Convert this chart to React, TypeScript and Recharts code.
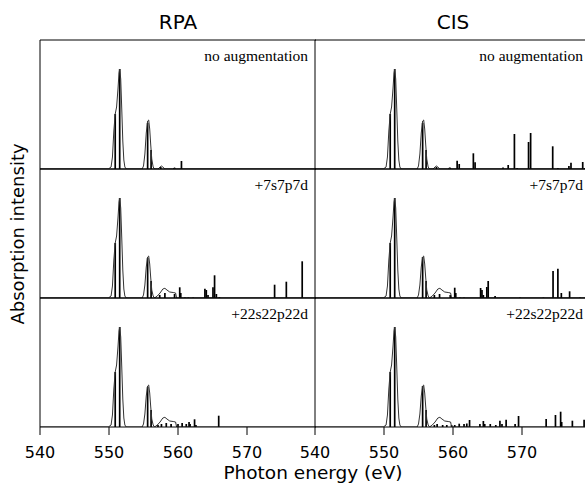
import React from 'react'
import { ComposedChart, Line, XAxis, YAxis, ReferenceLine } from 'recharts'

// stick spectra: [photon energy (eV), relative intensity]
const rpaNoAug = [
  [550.9, 0.55], [551.55, 1.0], [555.6, 0.46], [556.1, 0.19], [557.5, 0.02], [559.4, 0.01], [560.5, 0.08],
]
const cisNoAug = [
  [550.9, 0.55], [551.55, 1.0], [555.6, 0.46], [556.1, 0.19], [557.6, 0.02], [559.6, 0.013],
  [560.6, 0.083], [560.9, 0.05], [562.95, 0.157], [563.2, 0.067], [567.25, 0.015], [568.0, 0.04],
  [568.9, 0.35], [569.3, 0.01], [570.95, 0.27], [571.25, 0.36], [574.45, 0.227], [575.2, 0.01],
  [576.8, 0.03], [577.1, 0.063], [578.8, 0.07], [579.1, 0.01],
]
const rpa7 = [
  [550.9, 0.55], [551.55, 1.0], [555.6, 0.4], [556.1, 0.17], [557.35, 0.03], [558.1, 0.05],
  [559.5, 0.04], [560.25, 0.107], [560.4, 0.05], [561.0, 0.005], [561.5, 0.005], [562.2, 0.005],
  [563.9, 0.093], [564.1, 0.08], [564.35, 0.03], [565.07, 0.107], [565.3, 0.227], [565.56, 0.04],
  [566.0, 0.01], [574.0, 0.133], [575.7, 0.163], [578.0, 0.367],
]
const cis7 = [
  [550.9, 0.55], [551.55, 1.0], [555.6, 0.41], [556.1, 0.17], [557.3, 0.03], [558.05, 0.04],
  [559.6, 0.03], [560.25, 0.103], [560.4, 0.05], [561.0, 0.005], [561.6, 0.005], [564.0, 0.1],
  [564.2, 0.08], [564.4, 0.03], [564.9, 0.11], [565.1, 0.17], [566.1, 0.02], [569.7, 0.005],
  [573.1, 0.005], [574.5, 0.27], [575.2, 0.293], [575.7, 0.05], [576.9, 0.067], [578.4, 0.005],
]
const rpa22 = [
  [550.9, 0.55], [551.55, 1.0], [555.6, 0.4], [556.1, 0.17], [557.1, 0.02], [557.6, 0.03],
  [558.3, 0.04], [559.0, 0.03], [560.0, 0.03], [560.6, 0.04], [561.2, 0.03], [561.6, 0.05],
  [561.75, 0.03], [562.4, 0.077], [562.6, 0.02], [565.9, 0.113],
]
const cis22 = [
  [550.9, 0.55], [551.55, 1.0], [555.6, 0.41], [556.1, 0.17], [557.3, 0.02], [557.7, 0.03],
  [558.5, 0.02], [559.1, 0.02], [559.8, 0.02], [560.25, 0.02], [560.9, 0.033], [561.6, 0.03],
  [562.0, 0.035], [562.4, 0.07], [563.9, 0.03], [564.4, 0.06], [564.6, 0.03], [565.4, 0.03],
  [566.2, 0.02], [566.8, 0.063], [567.1, 0.03], [567.7, 0.073], [569.0, 0.03], [569.5, 0.11],
  [573.5, 0.08], [574.85, 0.12], [575.6, 0.153], [575.75, 0.05], [577.3, 0.063], [579.0, 0.073],
]

// broadened envelope
const mainPeak = [
  [540, 0], [549.9, 0], [550.3, 0.02], [550.5, 0.12], [550.7, 0.38], [550.9, 0.55], [551.1, 0.62],
  [551.3, 0.8], [551.45, 0.96], [551.55, 1.0], [551.7, 0.9], [551.85, 0.6], [552.0, 0.28],
  [552.15, 0.09], [552.3, 0.02], [552.5, 0],
]
const secondPeakNoAug = [
  [554.8, 0], [555.0, 0.03], [555.2, 0.15], [555.4, 0.36], [555.6, 0.48], [555.75, 0.49],
  [555.9, 0.4], [556.05, 0.24], [556.2, 0.1], [556.4, 0.02], [556.6, 0],
]
const secondPeakAug = [
  [554.8, 0], [555.0, 0.03], [555.2, 0.13], [555.4, 0.31], [555.6, 0.41], [555.75, 0.42],
  [555.9, 0.34], [556.05, 0.2], [556.2, 0.08], [556.4, 0.02], [556.6, 0],
]
const bumpNoAug = [
  [557.1, 0], [557.4, 0.02], [557.6, 0.03], [557.8, 0.02], [558.1, 0], [559.2, 0], [559.5, 0.012], [559.8, 0], [580, 0],
]
const bumpAug = [
  [556.6, 0], [557.0, 0.02], [557.4, 0.05], [557.8, 0.09], [558.1, 0.097], [558.4, 0.08],
  [558.8, 0.06], [559.3, 0.055], [559.65, 0.05], [559.8, 0], [580, 0],
]

const xTicks = [540, 550, 560, 570]
const W = 276
const H = 129
const YMAX = 1.29
const PAD = 21 // room for the first tick label

const panels = [
  { x: 40, y: 40, sticks: rpaNoAug, curve: [...mainPeak, ...secondPeakNoAug, ...bumpNoAug], label: 'no augmentation', last: false },
  { x: 315, y: 40, sticks: cisNoAug, curve: [...mainPeak, ...secondPeakNoAug, ...bumpNoAug], label: 'no augmentation', last: false },
  { x: 40, y: 169, sticks: rpa7, curve: [...mainPeak, ...secondPeakAug, ...bumpAug], label: '+7s7p7d', last: false },
  { x: 315, y: 169, sticks: cis7, curve: [...mainPeak, ...secondPeakAug, ...bumpAug], label: '+7s7p7d', last: false },
  { x: 40, y: 298, sticks: rpa22, curve: [...mainPeak, ...secondPeakAug, ...bumpAug], label: '+22s22p22d', last: true },
  { x: 315, y: 298, sticks: cis22, curve: [...mainPeak, ...secondPeakAug, ...bumpAug], label: '+22s22p22d', last: true },
]

function Panel({ x, y, sticks, curve, last }: any) {
  const line = curve.map(([e, v]: number[]) => ({ e, v }))
  const xh = last ? 40 : 12
  return (
    <div style={{ position: 'absolute', left: x - PAD, top: y - 1 }}>
      <ComposedChart width={W + PAD} height={H + 1 + xh} data={line} margin={{ top: 1, left: PAD, right: 0, bottom: 0 }}>
        <XAxis
          dataKey="e"
          type="number"
          domain={[540, 580]}
          allowDataOverflow
          ticks={xTicks}
          interval={0}
          height={xh}
          tickSize={8}
          tickMargin={12}
          axisLine={{ stroke: '#000' }}
          tickLine={{ stroke: '#000' }}
          tick={last ? { fill: '#000', fontSize: 16, fontFamily: 'DejaVu Sans' } : false}
        />
        <YAxis type="number" domain={[0, YMAX]} allowDataOverflow hide />
        <ReferenceLine x={540} stroke="#000" ifOverflow="visible" />
        <ReferenceLine y={YMAX} stroke="#000" ifOverflow="visible" />
        {sticks.map(([e, h]: number[], i: number) => (
          <ReferenceLine
            key={i}
            segment={[{ x: e, y: 0 }, { x: e, y: h }]}
            stroke="#000"
            strokeWidth={1.7}
            ifOverflow="visible"
          />
        ))}
        <Line dataKey="v" type="linear" dot={false} stroke="#333" strokeWidth={1} isAnimationActive={false} />
      </ComposedChart>
    </div>
  )
}

export default function App() {
  return (
    <div style={{ position: 'absolute', left: 0, top: 0, width: 585, height: 484, overflow: 'hidden', background: '#fff' }}>
      {panels.map((p, i) => <Panel key={i} {...p} />)}
      <svg width={585} height={484} style={{ position: 'absolute', left: 0, top: 0, pointerEvents: 'none' }}>
        <g fontFamily="DejaVu Sans" fill="#000">
          <text x={178} y={29} fontSize={20} textAnchor="middle">RPA</text>
          <text x={453} y={29} fontSize={20} textAnchor="middle">CIS</text>
          <text x={313} y={479} fontSize={18.5} textAnchor="middle">Photon energy (eV)</text>
          <text transform="translate(24,234) rotate(-90)" fontSize={18} textAnchor="middle">Absorption intensity</text>
        </g>
        <g fontFamily="Liberation Serif" fontSize={15.5} fill="#000" textAnchor="end">
          {panels.map((p, i) => (
            <text key={i} x={p.x === 40 ? 308 : 583} y={p.y + 21}>{p.label}</text>
          ))}
        </g>
      </svg>
    </div>
  )
}
